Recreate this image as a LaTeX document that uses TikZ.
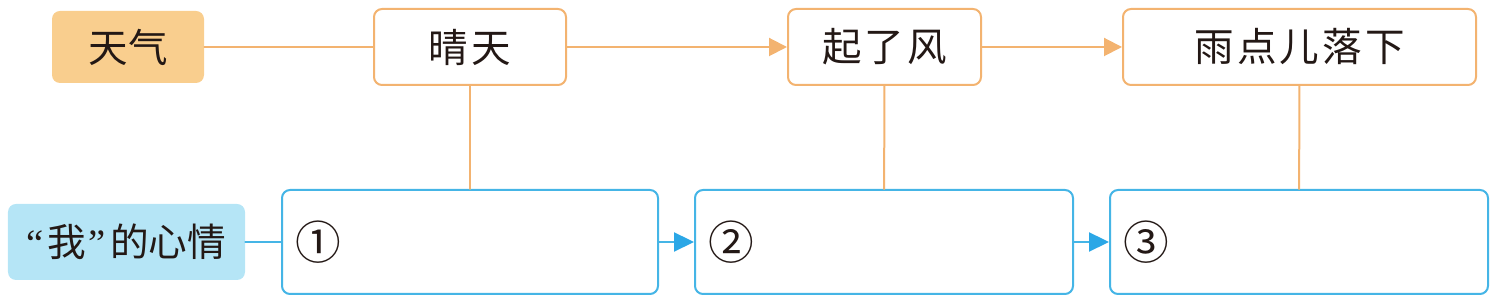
\documentclass[tikz,border=0pt]{standalone}
\usepackage{fontspec}
\setmainfont{Noto Sans CJK SC}
\newfontfamily\cjkwide[LetterSpace=8]{Noto Sans CJK SC}
\newfontfamily\quotefont{Liberation Serif}
\usetikzlibrary{arrows.meta}

\definecolor{wxline}{HTML}{F3B370}
\definecolor{wxfill}{HTML}{F9CE8E}
\definecolor{mdline}{HTML}{45B5E6}
\definecolor{mdfill}{HTML}{B5E5F6}
\definecolor{mdtip}{HTML}{2BA7E6}
\definecolor{ink}{HTML}{231815}

\begin{document}
\begin{tikzpicture}[>={Triangle[length=0.36cm,width=0.36cm]}, line cap=round, line join=round,
  wxbox/.style={draw=wxline, line width=0.04cm, rounded corners=0.16cm, fill=white, text=ink, minimum height=1.52cm, font=\cjkwide\fontsize{22.5}{26}\selectfont},
  mdbox/.style={draw=mdline, line width=0.04cm, rounded corners=0.16cm, fill=white, text=ink, minimum height=2.08cm, inner xsep=0.26cm, align=left, font=\fontsize{26}{30}\selectfont},
  wxlink/.style={draw=wxline, line width=0.04cm},
  mdlink/.style={draw=mdline, line width=0.045cm},
  mdarrow/.style={mdlink, -{Triangle[length=0.4cm,width=0.38cm,color=mdtip]}},
  wxarrow/.style={wxlink, ->}]

\useasboundingbox (0,0) rectangle (30.04,6.04);

\node[draw=none, rounded corners=0.16cm, fill=wxfill, text=ink, minimum width=3.04cm, minimum height=1.44cm, font=\fontsize{22.5}{26}\selectfont] (tq) at (2.56,5.10) {天气};
\node[wxbox, minimum width=3.84cm] (qt) at (9.40,5.10) {晴天};
\node[wxbox, minimum width=3.86cm] (qf) at (17.69,5.10) {起了风};
\node[wxbox, minimum width=7.06cm] (yd) at (25.99,5.10) {雨点儿落下};
\node[draw=none, rounded corners=0.16cm, fill=mdfill, text=ink, minimum width=4.74cm, minimum height=1.52cm, font=\fontsize{22}{26}\selectfont] (xq) at (2.53,1.20) {{\quotefont“}\hspace{0.08em}我\hspace{0.08em}{\quotefont”}\hspace{0.1em}的心情};
\node[mdbox, text width=7.00cm] (b1) at (9.40,1.20) {①};
\node[mdbox, text width=7.04cm] (b2) at (17.68,1.20) {②};
\node[mdbox, text width=7.04cm] (b3) at (25.98,1.20) {③};
\draw[wxlink] (tq) -- (qt);
\draw[wxarrow] (qt) -- (qf);
\draw[wxarrow] (qf) -- (yd);
\draw[wxlink] (qt) -- (b1);
\draw[wxlink] (qf) -- (b2);
\draw[wxlink] (yd) -- (b3);
\draw[mdlink] (xq) -- (b1);
\draw[mdarrow] (b1) -- (b2);
\draw[mdarrow] (b2) -- (b3);

\end{tikzpicture}
\end{document}
